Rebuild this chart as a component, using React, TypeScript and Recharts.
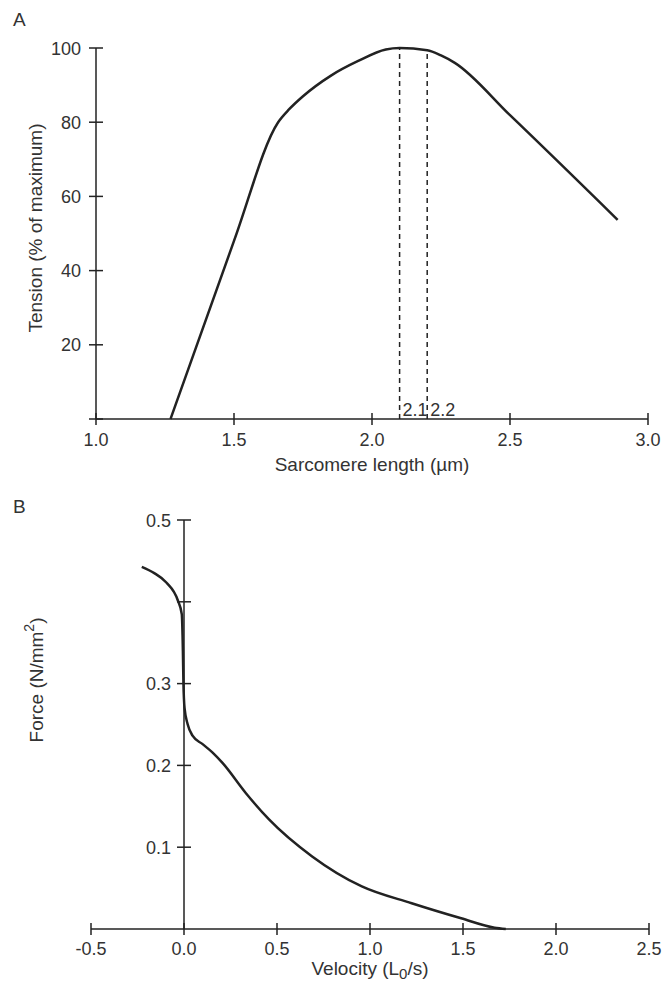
import React from 'react';
import { LineChart, Line, XAxis, YAxis, ReferenceLine } from 'recharts';

// Panel A: length–tension relation
const sarcomereLength = [1.27, 1.5, 1.66, 1.7, 1.75, 1.85, 1.95, 2.05, 2.1, 2.2, 2.25, 2.3, 2.5, 2.89];
const tension = [0, 48, 80, 83.5, 87, 92.5, 96.5, 99.6, 100, 99.4, 98, 96, 81.9, 53.7];
const lengthTicks = [1.0, 1.5, 2.0, 2.5, 3.0];
const tensionTicks = [0, 20, 40, 60, 80, 100];
const plateauEdges = [2.1, 2.2];

// Panel B: force–velocity relation
const velocity = [
  -0.227, -0.16, -0.095, -0.033, -0.012, -0.006, -0.003, 0.003, 0.02, 0.047, 0.1, 0.154,
  0.207, 0.333, 0.457, 0.689, 0.956, 1.224, 1.49, 1.67, 1.73,
];
const force = [
  0.4426, 0.435, 0.4236, 0.4016, 0.385, 0.34, 0.3, 0.27, 0.25, 0.236, 0.226, 0.2156,
  0.203, 0.166, 0.134, 0.0887, 0.052, 0.0315, 0.0131, 0.0016, 0,
];
const velocityTicks = [-0.5, 0, 0.5, 1.0, 1.5, 2.0, 2.5];
const forceTicks = [0.1, 0.2, 0.3, 0.4, 0.5];
const forceTickLabels = ['0.1', '0.2', '0.3', '', '0.5'];

const INK = '#333';
const LINE = '#222';
const FONT = '"Liberation Sans", Arial, Helvetica, sans-serif';

const lengthData = sarcomereLength.map((x, i) => ({ x, y: tension[i] }));
const velocityData = velocity.map((x, i) => ({ x, y: force[i] }));

const W = 665;
const marginA = { top: 48, right: 17, bottom: 41, left: 56 };
const marginB = { top: 30, right: 16, bottom: 24, left: 51 };
const Y_AXIS_W = 40;
const velDomain: [number, number] = [-0.5, 2.5];
// horizontal offset from the plot's left edge to velocity = 0, where panel B's force axis sits
const plotWB = W - marginB.left - Y_AXIS_W - marginB.right;
const zeroShift = ((0 - velDomain[0]) / (velDomain[1] - velDomain[0])) * plotWB;

const XTick = (props: any) => {
  const { x, y, payload, dy } = props;
  return (
    <g>
      <line x1={x} x2={x} y1={y - 6} y2={y + 6} stroke={LINE} strokeWidth={1.5} />
      <text x={x} y={y + dy} textAnchor="middle" fontSize={18} fontFamily={FONT} fill={INK}>
        {Number(payload.value).toFixed(1)}
      </text>
    </g>
  );
};

const YTick = (props: any) => {
  const { x, y, text, shift = 0, gap } = props;
  const cx = x + shift;
  return (
    <g>
      <line x1={cx - 7} x2={cx + 7} y1={y} y2={y} stroke={LINE} strokeWidth={1.5} />
      {text ? (
        <text x={cx - gap} y={y + 6.5} textAnchor="end" fontSize={18} fontFamily={FONT} fill={INK}>
          {text}
        </text>
      ) : null}
    </g>
  );
};

const XTitle = ({ viewBox, dy, children }: any) => (
  <text
    x={viewBox.x + viewBox.width / 2}
    y={viewBox.y + dy}
    textAnchor="middle"
    fontSize={19}
    fontFamily={FONT}
    fill={INK}
  >
    {children}
  </text>
);

const YTitle = ({ cx, cy, children }: any) => (
  <text
    x={cx}
    y={cy}
    transform={`rotate(-90 ${cx} ${cy})`}
    textAnchor="middle"
    dominantBaseline="central"
    fontSize={19}
    fontFamily={FONT}
    fill={INK}
  >
    {children}
  </text>
);

const PanelLetter = ({ letter, top }: { letter: string; top: number }) => (
  <svg width={40} height={30} style={{ position: 'absolute', left: 0, top }}>
    <text x={13} y={26} fontSize={19} fontFamily={FONT} fill={INK}>
      {letter}
    </text>
  </svg>
);

export default function App() {
  return (
    <div style={{ position: 'absolute', left: 0, top: 0, width: W, height: 983, background: '#fff' }}>
      <PanelLetter letter="A" top={0} />
      <div style={{ position: 'absolute', left: 0, top: 0 }}>
        <LineChart width={W} height={490} data={lengthData} margin={marginA}>
          <XAxis
            dataKey="x"
            type="number"
            domain={[1, 3]}
            ticks={lengthTicks}
            interval={0}
            height={30}
            tickSize={0}
            tickMargin={0}
            tickLine={false}
            axisLine={{ stroke: LINE, strokeWidth: 1.5 }}
            tick={(p: any) => <XTick {...p} dy={27} />}
            label={{
              content: (p: any) => (
                <XTitle viewBox={p.viewBox} dy={52}>
                  Sarcomere length (µm)
                </XTitle>
              ),
            }}
          />
          <YAxis
            dataKey="y"
            type="number"
            domain={[0, 100]}
            ticks={tensionTicks}
            interval={0}
            width={Y_AXIS_W}
            tickSize={0}
            tickMargin={0}
            tickLine={false}
            axisLine={{ stroke: LINE, strokeWidth: 1.5 }}
            tick={(p: any) => (
              <YTick {...p} gap={15} text={p.payload.value === 0 ? '' : String(p.payload.value)} />
            )}
            label={{
              content: (p: any) => (
                <YTitle cx={p.viewBox.x - 21} cy={228}>
                  Tension (% of maximum)
                </YTitle>
              ),
            }}
          />
          {plateauEdges.map((edge) => (
            <ReferenceLine
              key={edge}
              segment={[
                { x: edge, y: 0 },
                { x: edge, y: tension[sarcomereLength.indexOf(edge)] },
              ]}
              stroke={LINE}
              strokeWidth={1.5}
              strokeDasharray="5 4"
              label={{
                value: String(edge),
                position: 'insideBottomLeft',
                offset: 3,
                fontSize: 18,
                fontFamily: FONT,
                fill: INK,
              }}
            />
          ))}
          <Line
            dataKey="y"
            type="monotone"
            stroke={LINE}
            strokeWidth={2.5}
            dot={false}
            isAnimationActive={false}
          />
        </LineChart>
      </div>

      <PanelLetter letter="B" top={487} />
      <div style={{ position: 'absolute', left: 0, top: 490 }}>
        <LineChart width={W} height={493} data={velocityData} margin={marginB}>
          <XAxis
            dataKey="x"
            type="number"
            domain={velDomain}
            ticks={velocityTicks}
            interval={0}
            height={30}
            tickSize={0}
            tickMargin={0}
            tickLine={false}
            axisLine={{ stroke: LINE, strokeWidth: 1.5 }}
            tick={(p: any) => <XTick {...p} dy={26} />}
            label={{
              content: (p: any) => (
                <XTitle viewBox={p.viewBox} dy={46}>
                  Velocity (L
                  <tspan fontSize={15} dy={4}>
                    0
                  </tspan>
                  <tspan dy={-4}>/s)</tspan>
                </XTitle>
              ),
            }}
          />
          <YAxis
            dataKey="y"
            type="number"
            domain={[0, 0.5]}
            ticks={forceTicks}
            interval={0}
            width={Y_AXIS_W}
            tickSize={0}
            tickMargin={0}
            tickLine={false}
            axisLine={false}
            tick={(p: any) => (
              <YTick
                {...p}
                shift={zeroShift}
                gap={13}
                text={forceTickLabels[forceTicks.indexOf(p.payload.value)]}
              />
            )}
            label={{
              content: (p: any) => (
                <YTitle cx={p.viewBox.x - 15} cy={190}>
                  Force (N/mm
                  <tspan fontSize={14} dy={-7}>
                    2
                  </tspan>
                  <tspan dy={7}>)</tspan>
                </YTitle>
              ),
            }}
          />
          <ReferenceLine
            segment={[
              { x: 0, y: 0 },
              { x: 0, y: 0.5 },
            ]}
            stroke={LINE}
            strokeWidth={1.5}
          />
          <Line
            dataKey="y"
            type="monotone"
            stroke={LINE}
            strokeWidth={2.5}
            dot={false}
            isAnimationActive={false}
          />
        </LineChart>
      </div>
    </div>
  );
}
